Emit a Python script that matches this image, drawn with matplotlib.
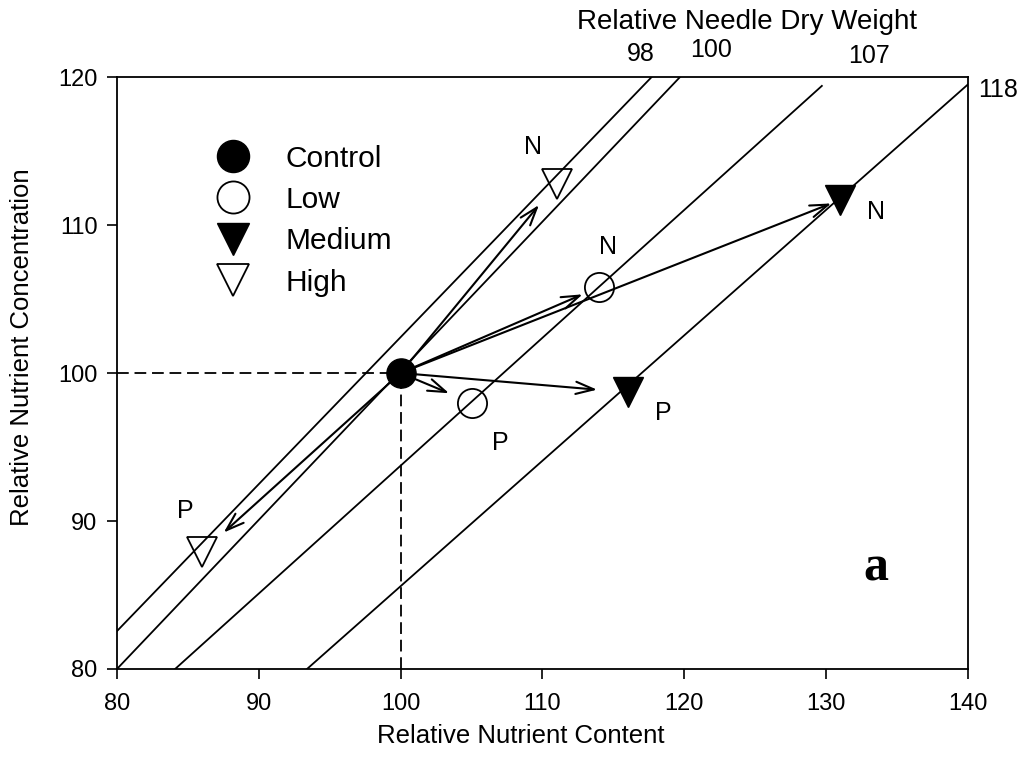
import matplotlib
matplotlib.use("Agg")
import matplotlib.pyplot as plt

plt.rcParams['font.family'] = ['Liberation Sans', 'DejaVu Sans']

# relative nutrient content (x) and concentration (y), control = 100
control = (100, 100)
low_x = [114, 105]
low_y = [105.8, 98]
medium_x = [131, 116]
medium_y = [111.7, 98.7]
high_x = [111, 86]
high_y = [112.8, 87.9]
nutrients = ['N', 'P']

# relative needle dry weight isolines (start and end of each line)
weights = [98, 100, 107, 118]
iso_x0 = [80, 80, 84.1, 93.4]
iso_y0 = [82.56, 80, 80, 80]
iso_x1 = [117.7, 119.7, 129.7, 140]
iso_y1 = [120, 120, 119.4, 119.5]

fig = plt.figure(figsize=(10.35, 7.71), dpi=100)
ax = fig.add_axes([0.113, 0.1323, 0.8222, 0.7678])
ax.set_xlim(80, 140)
ax.set_ylim(80, 120)

for x0, y0, x1, y1 in zip(iso_x0, iso_y0, iso_x1, iso_y1):
    ax.plot([x0, x1], [y0, y1], color='black', lw=1.3, zorder=1)

# reference lines to the control
ax.plot([80, control[0]], [control[1], control[1]], color='black', lw=1.3,
        dashes=(6.5, 3.2), zorder=1)
ax.plot([control[0], control[0]], [80, control[1]], color='black', lw=1.3,
        dashes=(6.5, 3.2), zorder=1)

# vectors from control to each treatment
shrink = {'low': [13, 17.5], 'medium': [7, 22], 'high': [20, 21]}
for key, xs, ys in [('low', low_x, low_y), ('medium', medium_x, medium_y),
                    ('high', high_x, high_y)]:
    for x, y, s in zip(xs, ys, shrink[key]):
        ax.annotate('', xy=(x, y), xytext=control,
                    arrowprops=dict(arrowstyle='->,head_length=0.65,head_width=0.22',
                                    mutation_scale=20, lw=1.5, color='black',
                                    shrinkA=0, shrinkB=s), zorder=2)

ms = 21
ax.plot([control[0]], [control[1]], 'o', ms=ms, color='black', label='Control', zorder=3)
ax.plot(low_x, low_y, 'o', ms=ms, mfc='none', mec='black', mew=1.3,
        ls='none', label='Low', zorder=3)
ax.plot(medium_x, medium_y, 'v', ms=ms, color='black', ls='none',
        label='Medium', zorder=3)
ax.plot(high_x, high_y, 'v', ms=ms, mfc='none', mec='black', mew=1.3,
        ls='none', label='High', zorder=3)

# nutrient labels next to each treatment point
lab_x = [114.6, 107.0, 133.5, 118.5, 109.3, 84.8]
lab_y = [108.5, 95.3, 110.9, 97.3, 115.3, 90.7]
lab_t = nutrients * 3
for x, y, t in zip(lab_x, lab_y, lab_t):
    ax.text(x, y, t, fontsize=18, ha='center', va='center')

ax.text(133.5, 86.8, 'a', fontsize=36, fontweight='bold',
        family='Liberation Serif', ha='center', va='center')

# dry weight labels along the top
wt_x = [116.97, 121.9, 133.0, 142.1]
wt_y = [121.55, 121.8, 121.4, 119.1]
for x, y, w in zip(wt_x, wt_y, weights):
    ax.text(x, y, str(w), fontsize=18, ha='center', va='center', clip_on=False)
ax.text(124.4, 123.7, 'Relative Needle Dry Weight', fontsize=20,
        ha='center', va='center', clip_on=False)

ax.legend(loc='upper left', bbox_to_anchor=(0.119, 0.886), frameon=False,
          fontsize=21.5, borderpad=0, borderaxespad=0, handlelength=1.0,
          handletextpad=1.25, labelspacing=0.45, numpoints=1, markerscale=1.1)

ax.set_xticks(range(80, 141, 10))
ax.set_yticks(range(80, 121, 10))
ax.tick_params(direction='out', length=7, width=1.2, labelsize=17, pad=7)
ax.tick_params(axis='x', pad=10)
for sp in ax.spines.values():
    sp.set_linewidth(1.3)

ax.set_xlabel('Relative Nutrient Content', fontsize=18.5)
ax.set_ylabel('Relative Nutrient Concentration', fontsize=18.5)
ax.xaxis.set_label_coords(0.474, -0.114)
ax.yaxis.set_label_coords(-0.111, 0.543)
ax.xaxis.label.set_va('center')
ax.yaxis.label.set_va('center')

fig.savefig('out.png', dpi=100)
